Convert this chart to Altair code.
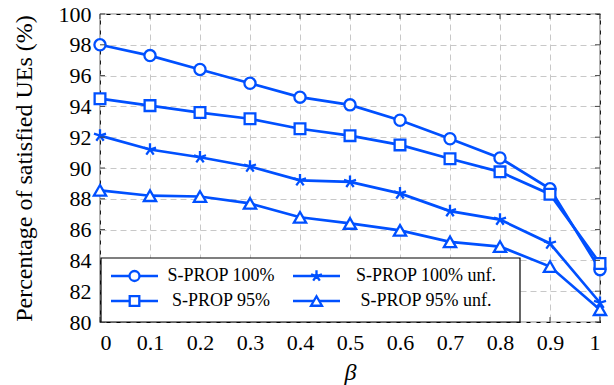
import altair as alt
import pandas as pd

# ---- data ----
BETA = [0.0, 0.1, 0.2, 0.3, 0.4, 0.5, 0.6, 0.7, 0.8, 0.9, 1.0]
SERIES = ["S-PROP 100%", "S-PROP 95%", "S-PROP 100% unf.", "S-PROP 95% unf."]
V_100 = [98.0, 97.3, 96.4, 95.5, 94.6, 94.1, 93.1, 91.9, 90.65, 88.65, 83.4]
V_95 = [94.5, 94.05, 93.6, 93.2, 92.55, 92.1, 91.5, 90.6, 89.75, 88.3, 83.8]
V_100U = [92.1, 91.2, 90.7, 90.1, 89.2, 89.1, 88.35, 87.2, 86.65, 85.1, 81.25]
V_95U = [88.55, 88.2, 88.15, 87.7, 86.8, 86.4, 85.95, 85.2, 84.9, 83.6, 80.8]
X_TICKS = [0.0, 0.1, 0.2, 0.3, 0.4, 0.5, 0.6, 0.7, 0.8, 0.9, 1.0]
Y_TICKS = [80, 82, 84, 86, 88, 90, 92, 94, 96, 98, 100]
X_TITLE = "β"
Y_TITLE = "Percentage of satisfied UEs (%)"

# ---- style ----
BLUE = "#0050ff"
FONT = "Liberation Serif, DejaVu Serif, serif"
W, H = 500, 308
STAR = "M0,0L0,-1M0,0L0.951,-0.309M0,0L0.588,0.809M0,0L-0.588,0.809M0,0L-0.951,-0.309"
SHAPES = ["circle", "square", STAR, "triangle-up"]
SIZES = [125, 115, 160, 150]

rows = []
for name, vals in zip(SERIES, [V_100, V_95, V_100U, V_95U]):
    for b, v in zip(BETA, vals):
        rows.append({"beta": b, "value": v, "series": name})
df = pd.DataFrame(rows)

xscale = alt.Scale(domain=[0, 1], nice=False, zero=False)
yscale = alt.Scale(domain=[80, 100], nice=False, zero=False)

xaxis = alt.Axis(values=X_TICKS, format="~g", title=X_TITLE, grid=True,
                 gridDash=[6, 4], gridColor="#c8c8c8", gridWidth=1,
                 domain=False, ticks=False, labelFont=FONT, labelFontSize=22,
                 labelColor="black", labelPadding=10, titleFont=FONT,
                 titleFontSize=24, titleFontStyle="italic", titleFontWeight="normal",
                 titleColor="black", titleX=250, titleY=38)
yaxis = alt.Axis(values=Y_TICKS, title=Y_TITLE, grid=True, gridDash=[6, 4],
                 gridColor="#c8c8c8", gridWidth=1, domain=False, ticks=False,
                 labelFont=FONT, labelFontSize=22, labelColor="black",
                 labelPadding=9, titleFont=FONT, titleFontSize=24,
                 titleFontWeight="normal", titleColor="black",
                 titleX=-64, titleY=H / 2)

X = alt.X("beta:Q", scale=xscale, axis=xaxis)
Y = alt.Y("value:Q", scale=yscale, axis=yaxis)

base = alt.Chart(df)
lines = base.mark_line(color=BLUE, strokeWidth=2.7).encode(
    x=X, y=Y, detail="series:N")

layers = [lines]
for name, shp, sz in zip(SERIES, SHAPES, SIZES):
    pts = base.transform_filter(alt.datum.series == name).mark_point(
        shape=shp, size=sz, filled=False, fill="white", fillOpacity=1,
        stroke=BLUE, strokeWidth=2.3, opacity=1).encode(x=X, y=Y)
    layers.append(pts)

# inward tick marks on all four sides
tx = alt.Chart(pd.DataFrame({"beta": X_TICKS}))
ty = alt.Chart(pd.DataFrame({"value": Y_TICKS}))
TICK_C = "#444444"
layers += [
    tx.mark_rule(color=TICK_C, strokeWidth=1).encode(x=X, y=alt.value(H), y2=alt.value(H - 5)),
    tx.mark_rule(color=TICK_C, strokeWidth=1).encode(x=X, y=alt.value(0), y2=alt.value(5)),
    ty.mark_rule(color=TICK_C, strokeWidth=1).encode(y=Y, x=alt.value(0), x2=alt.value(5)),
    ty.mark_rule(color=TICK_C, strokeWidth=1).encode(y=Y, x=alt.value(W), x2=alt.value(W - 5)),
]

# legend (pgfplots style, 2 columns)
one = alt.Chart(pd.DataFrame({"k": [0]}))
layers.append(one.mark_rect(fill="white", stroke="black", strokeWidth=1.2).encode(
    x=alt.value(1), x2=alt.value(420), y=alt.value(244), y2=alt.value(H)))
LEG_ROW = [262, 287, 262, 287]
LEG_LINE = [(11, 58), (11, 58), (193, 240), (193, 240)]
LEG_TXT = [121, 121, 326, 326]
for name, shp, sz, ry, (lx0, lx1), tx_ in zip(SERIES, SHAPES, SIZES, LEG_ROW, LEG_LINE, LEG_TXT):
    layers.append(one.mark_rule(color=BLUE, strokeWidth=2.7).encode(
        x=alt.value(lx0), x2=alt.value(lx1), y=alt.value(ry)))
    layers.append(one.mark_point(shape=shp, size=sz * 0.8, filled=False, fill="white",
                                 fillOpacity=1, stroke=BLUE, strokeWidth=2.3, opacity=1).encode(
        x=alt.value((lx0 + lx1) / 2), y=alt.value(ry)))
    layers.append(one.mark_text(text=name, font=FONT, fontSize=18, color="black",
                                align="center", baseline="middle").encode(
        x=alt.value(tx_), y=alt.value(ry)))

chart = alt.layer(*layers).properties(
    width=W, height=H, autosize="none",
    padding={"left": 100, "top": 14, "right": 14, "bottom": 63},
    background="white",
).configure_view(stroke="black", strokeWidth=1.2)

chart.save("out.html", embed_options={"renderer": "svg", "actions": False})
